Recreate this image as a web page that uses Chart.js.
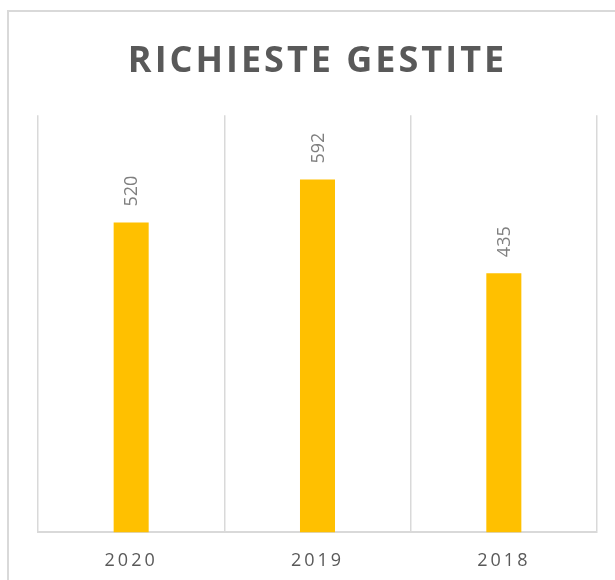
<!DOCTYPE html>
<html>
<head>
<meta charset="utf-8">
<script src="https://cdn.jsdelivr.net/npm/chart.js@4/dist/chart.umd.min.js"></script>
<style>
  html, body { margin: 0; padding: 0; background: #fff; overflow: hidden; }
  #wrap { position: relative; width: 615px; height: 580px; }
  #frame { position: absolute; left: 7px; top: 10px; width: 640px; height: 600px;
           border: 2px solid #d9d9d9; box-sizing: border-box; }
  canvas { position: absolute; left: 0; top: 0; }
</style>
</head>
<body>
<div id="wrap">
  <div id="frame"></div>
  <canvas id="richiesteChart" width="615" height="580"></canvas>
</div>
<script>
'use strict'
{
  const years = ['2020', '2019', '2018'];
  const richieste = [520, 592, 435];
  const yMax = 700;

  const ctx = document.getElementById('richiesteChart').getContext('2d');

  // spaced letters for title and axis labels
  const spacing = {
    id: 'spacing',
    beforeDraw(chart) {
      chart.ctx.letterSpacing = '3px';
    },
  };

  // rotated value labels above the bars
  const valueLabels = {
    id: 'valueLabels',
    afterDatasetsDraw(chart) {
      const c = chart.ctx;
      const meta = chart.getDatasetMeta(0);
      c.save();
      c.letterSpacing = '0px';
      c.font = '18px "Open Sans"';
      c.fillStyle = '#7f7f7f';
      c.textAlign = 'left';
      c.textBaseline = 'middle';
      meta.data.forEach((bar, i) => {
        c.save();
        c.translate(bar.x + 1, bar.y - 16);
        c.rotate(-Math.PI / 2);
        c.fillText(String(richieste[i]), 0, 0);
        c.restore();
      });
      c.restore();
    },
  };

  const data = {
    labels: years,
    datasets: [{
      data: richieste,
      backgroundColor: '#FFC000',
      borderWidth: 0,
      categoryPercentage: 1,
      barPercentage: 0.188,
    }],
  };

  const options = {
    animation: false,
    responsive: false,
    layout: {
      padding: { left: 38, right: 18, top: 0, bottom: -10 },
    },
    plugins: {
      legend: { display: false },
      tooltip: { enabled: false },
      title: {
        display: true,
        text: 'RICHIESTE GESTITE',
        color: '#595959',
        font: { family: '"Open Sans"', size: 36, weight: 'bold', lineHeight: 1.2 },
        padding: { top: 40, bottom: 32 },
      },
    },
    scales: {
      x: {
        grid: {
          display: true,
          offset: true,
          drawTicks: false,
          color: '#d9d9d9',
          lineWidth: 1.5,
        },
        border: { display: true, color: '#d9d9d9', width: 2 },
        ticks: {
          color: '#595959',
          font: { family: '"Open Sans"', size: 18 },
          padding: 18,
        },
      },
      y: {
        display: false,
        min: 0,
        max: yMax,
      },
    },
  };

  const richiesteChart = new Chart(ctx, {
    type: 'bar',
    data: data,
    options: options,
    plugins: [spacing, valueLabels],
  });
}
</script>
</body>
</html>
